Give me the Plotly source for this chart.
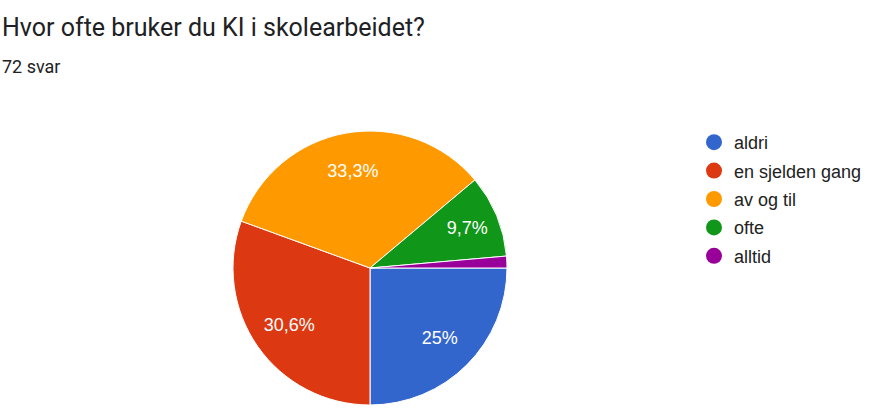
import plotly.graph_objects as go

# Data
labels = ["aldri", "en sjelden gang", "av og til", "ofte", "alltid"]
counts = [18, 22, 24, 7, 1]
colors = ["#3366cc", "#dc3912", "#ff9900", "#109618", "#990099"]

total = sum(counts)


def pct_label(v):
    p = round(100 * v / total, 1)
    if p < 5:
        return ""
    s = ("%.1f" % p).rstrip("0").rstrip(".")
    return s.replace(".", ",") + "%"


texts = [pct_label(v) for v in counts]

W, H = 870, 412
pie_dom = dict(x=[233 / W, 507 / W], y=[(H - 405) / H, (H - 131) / H])

fig = go.Figure()

# the slices
fig.add_trace(go.Pie(
    labels=labels,
    values=counts,
    textinfo="none",
    marker=dict(colors=colors, line=dict(color="white", width=1)),
    sort=False,
    direction="clockwise",
    rotation=90,
    showlegend=False,
    hoverinfo="label+percent",
    domain=pie_dom,
))

# transparent ring on top, only to put the labels further out (like google charts)
fig.add_trace(go.Pie(
    labels=labels,
    values=counts,
    text=texts,
    textinfo="text",
    textposition="inside",
    insidetextorientation="horizontal",
    textfont=dict(family="Arial, Liberation Sans", size=18, color="white"),
    marker=dict(colors=["rgba(0,0,0,0)"] * len(labels), line=dict(width=0)),
    hole=0.44,
    sort=False,
    direction="clockwise",
    rotation=90,
    showlegend=False,
    hoverinfo="skip",
    domain=pie_dom,
))

# legend with round markers
for lab, col in zip(labels, colors):
    fig.add_trace(go.Scatter(
        x=[None], y=[None], mode="markers", name=lab, legendgroup=lab,
        marker=dict(symbol="circle", size=19, color=col),
        showlegend=True,
    ))

fig.update_layout(
    width=W, height=H,
    margin=dict(l=0, r=0, t=0, b=0),
    paper_bgcolor="white",
    plot_bgcolor="white",
    font=dict(family="Roboto, Arial", color="#222222"),
    xaxis=dict(visible=False),
    yaxis=dict(visible=False),
    legend=dict(
        x=694 / W, y=1 - 124 / H, xanchor="left", yanchor="top",
        font=dict(family="Arial, Liberation Sans", size=18, color="#222222"),
        itemsizing="trace", tracegroupgap=2,
        bgcolor="rgba(0,0,0,0)",
    ),
    annotations=[
        dict(text="Hvor ofte bruker du KI i skolearbeidet?", x=0, y=1 - 28 / H,
             xref="paper", yref="paper", xanchor="left", yanchor="middle",
             showarrow=False, font=dict(size=25, color="#202124")),
        dict(text="72 svar", x=0, y=1 - 66 / H,
             xref="paper", yref="paper", xanchor="left", yanchor="middle",
             showarrow=False, font=dict(size=18, color="#202124")),
    ],
)

fig.write_html("out.html", config={"displayModeBar": False},
               post_script="document.body.style.margin='0px';")
